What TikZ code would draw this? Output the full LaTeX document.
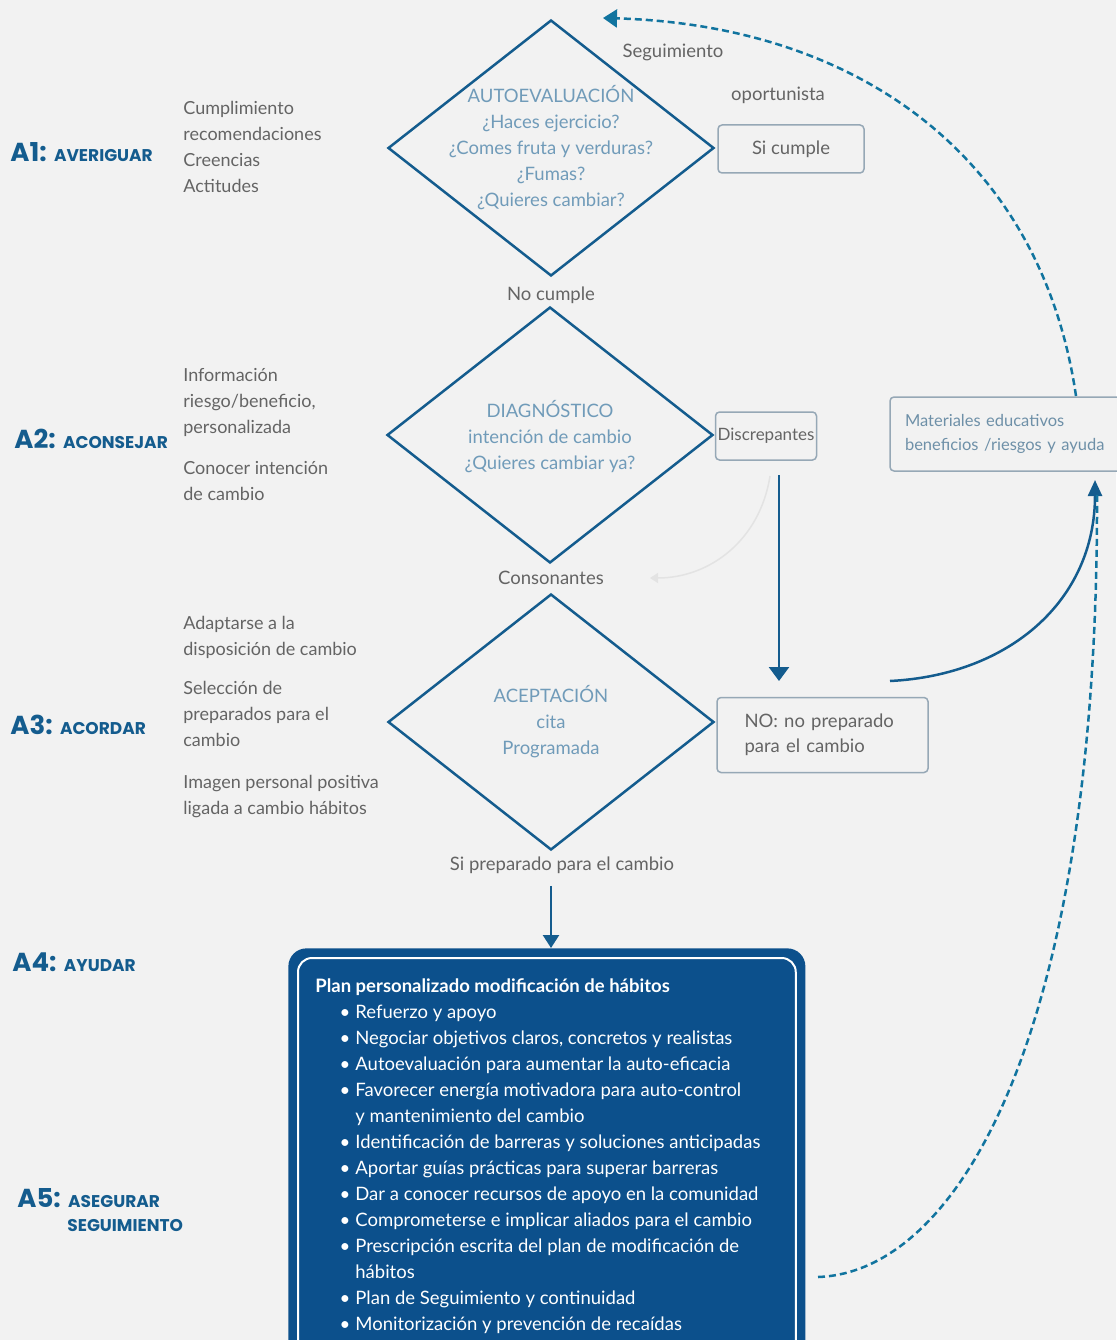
\documentclass[tikz,border=0pt]{standalone}
\usepackage{fontspec}
\setmainfont{Lato}
\newfontfamily\etiq{Poppins}
\usetikzlibrary{shapes.geometric,arrows.meta}

\definecolor{fondo}{RGB}{242,242,242}
\definecolor{azul}{RGB}{20,92,142}
\definecolor{azulplan}{RGB}{12,80,140}
\definecolor{azultxt}{RGB}{112,155,185}
\definecolor{gristxt}{RGB}{100,100,100}
\definecolor{bordecaja}{RGB}{150,168,182}

\tikzset{every picture/.style={line width=0.75pt}}
\tikzset{
  rombo/.style={diamond, draw=azul, line width=2.5pt, minimum width=326pt, minimum height=256pt, inner sep=0pt},
  rombotxt/.style={text=azultxt, align=center, inner sep=0pt, font=\fontsize{18.5}{26}\selectfont},
  desc/.style={text=gristxt, align=left, inner sep=0pt, anchor=north west, font=\fontsize{18}{26}\selectfont},
  etapa/.style={text=azul, align=left, inner sep=0pt, anchor=west},
  nota/.style={text=gristxt, inner sep=0pt, font=\fontsize{18.5}{20}\selectfont},
  caja/.style={draw=bordecaja, line width=1.5pt, rounded corners=4pt, fill=fondo, text=gristxt, align=left, font=\fontsize{18.5}{25}\selectfont},
  flecha/.style={draw=azul, line width=2.5pt, -{Triangle[width=20pt,length=14pt]}},
  trazos/.style={draw=azul!85!cyan, line width=2.5pt, dash pattern={on 7pt off 4pt}},
}
\newcommand{\etapaA}[2]{{\etiq\bfseries\fontsize{26}{28}\selectfont #1: }{\etiq\bfseries\fontsize{17}{22}\selectfont #2}}
\newcommand{\punto}{\makebox[40pt][r]{\textbullet\hspace{5pt}}}

\begin{document}
\begin{tikzpicture}[x=1pt,y=-1pt]
\useasboundingbox (0,0) rectangle (1116,1340);
\fill[fondo] (0,0) rectangle (1116,1340);

% Diamonds
\node[rombo] (d1) at (551,148) {};
\node[rombo] (d2) at (550,435) {};
\node[rombo] (d3) at (551,722) {};

% Text Node
\node[rombotxt] (t1) at (d1.center) {AUTOEVALUACIÓN\\¿Haces ejercicio?\\¿Comes fruta y verduras?\\¿Fumas?\\¿Quieres cambiar?};
\node[rombotxt] (t2) at (550,437) {DIAGNÓSTICO\\intención de cambio\\¿Quieres cambiar ya?};
\node[rombotxt] (t3) at (d3.center) {ACEPTACIÓN\\cita\\Programada};

% Stages on the left
\node[etapa] (a1) at (10,152) {\etapaA{A1}{AVERIGUAR}};
\node[etapa] (a2) at (14,439) {\etapaA{A2}{ACONSEJAR}};
\node[etapa] (a3) at (10,725) {\etapaA{A3}{ACORDAR}};
\node[etapa] (a4) at (12,962) {\etapaA{A4}{AYUDAR}};
\node[etapa] (a5) at (17,1198) {\etapaA{A5}{ASEGURAR}};
\node[etapa] (a5b) at (67,1225) {{\etiq\bfseries\fontsize{17}{22}\selectfont SEGUIMIENTO}};

% Descriptions
\node[desc] (c1) at (183,101) {Cumplimiento\\recomendaciones\\Creencias\\Actitudes};
\node[desc] (c2) at (183,368) {Información\\riesgo/beneficio,\\personalizada\\[15pt]Conocer intención\\de cambio};
\node[desc] (c3) at (183,616) {Adaptarse a la\\disposición de cambio\\[13pt]Selección de\\preparados para el\\cambio\\[16pt]Imagen personal positiva\\ligada a cambio hábitos};

% Text Node
\node[nota] (seg) at (673,52) {Seguimiento};
\node[nota] (opo) at (778,95) {oportunista};
\node[nota] (nocum) at (551,295) {No cumple};
\node[nota] (cons) at (551,578) {Consonantes};
\node[nota] (sipre) at (562,865) {Si preparado para el cambio};

% Boxes
\node[caja, minimum width=146pt, minimum height=48pt, align=center] (si) at (791,149) {Si cumple};
\node[caja, minimum width=101pt, minimum height=48pt, inner sep=2pt, font=\fontsize{17}{20}\selectfont] (disc) at (766,436) {Discrepantes};
\node[caja, minimum width=211pt, minimum height=75pt, text width=156pt] (no) at (822.5,735) {NO: no preparado\\para el cambio};
\node[caja, minimum width=240pt, minimum height=74pt, text width=210pt, font=\fontsize{16.5}{24}\selectfont, text=azultxt!80!gristxt] (mat) at (1010,434) {Materiales educativos\\beneficios /riesgos y ayuda};

% Plan box
\node[fill=azulplan, rounded corners=18pt, minimum width=517pt, minimum height=420pt, anchor=north west, inner sep=0pt] (plan) at (288,948) {};
\draw[white, line width=2pt, rounded corners=14pt] ([shift={(10,10)}]plan.north west) rectangle ([shift={(-10,-10)}]plan.south east);
\node[text=white, align=left, inner sep=0pt, anchor=north west, font=\fontsize{18.5}{26}\selectfont] (lista) at (315,978) {%
\textbf{Plan personalizado modificación de hábitos}\\
\punto Refuerzo y apoyo\\
\punto Negociar objetivos claros, concretos y realistas\\
\punto Autoevaluación para aumentar la auto-eficacia\\
\punto Favorecer energía motivadora para auto-control\\
\hspace*{40pt}y mantenimiento del cambio\\
\punto Identificación de barreras y soluciones anticipadas\\
\punto Aportar guías prácticas para superar barreras\\
\punto Dar a conocer recursos de apoyo en la comunidad\\
\punto Comprometerse e implicar aliados para el cambio\\
\punto Prescripción escrita del plan de modificación de\\
\hspace*{40pt}hábitos\\
\punto Plan de Seguimiento y continuidad\\
\punto Monitorización y prevención de recaídas};

% Connectors
\coordinate (p1) at (779,475);
\coordinate (p2) at (779,681);
\draw[flecha] (p1) -- (p2);
\draw[flecha, -{Triangle[width=16pt,length=13pt]}] (sipre.south -| d3.south) ++(0,12) -- (plan.north -| d3.south);
\draw[gray!22, line width=1.5pt, -{Triangle[width=10pt,length=8pt]}] (770,476) .. controls (760,540) and (710,578) .. (650,578);
\coordinate (q1) at (890,681);
\coordinate (q2) at (1095,480);
\draw[flecha, -{Triangle[width=14pt,length=16pt]}] (q1) .. controls (1010,675) and (1095,600) .. (q2);
\coordinate (r1) at (1076,396);
\coordinate (r2) at (603,18);
\draw[trazos, -{Triangle[width=18pt,length=14pt]}] (r1) .. controls (1040,150) and (850,25) .. (r2);
\coordinate (s1) at (818,1277);
\coordinate (s2) at (1097,492);
\draw[trazos] (s1) .. controls (960,1272) and (1099,1030) .. (s2);
\end{tikzpicture}
\end{document}
